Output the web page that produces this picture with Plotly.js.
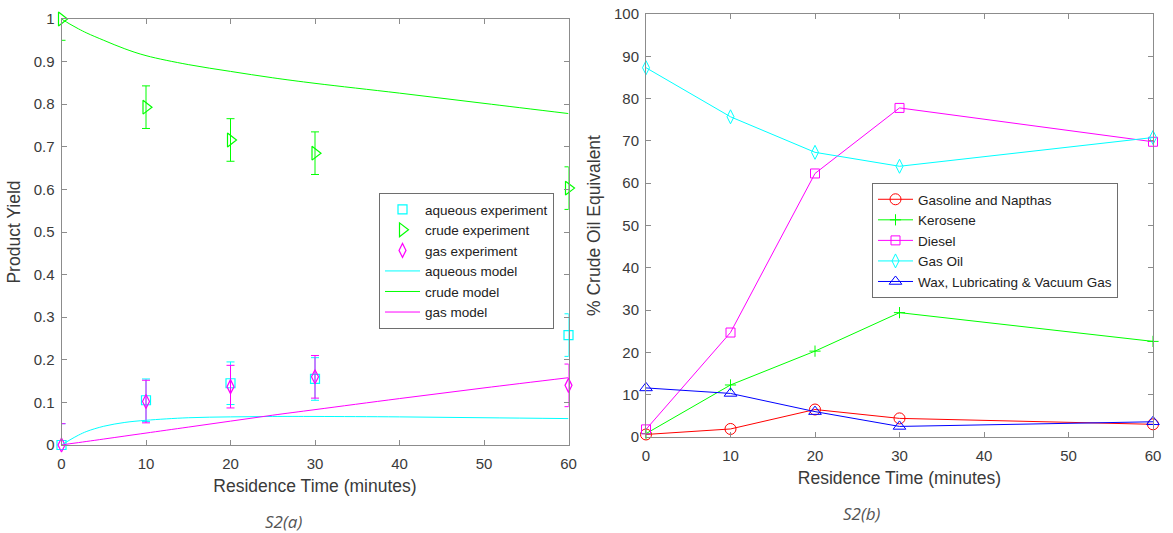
<!DOCTYPE html>
<html><head><meta charset="utf-8">
<script src="https://cdn.plot.ly/plotly-3.0.1.min.js"></script>
<style>html,body{margin:0;padding:0;background:#fff}#chart{width:1173px;height:533px}</style>
</head><body><div id="chart"></div>
<script>
// ---- Panel S2(a): product yield ----
const timesExp = [0, 10, 20, 30, 60];
const aqueousExp = [0.0, 0.105, 0.145, 0.155, 0.258];
const crudeExp = [1.0, 0.793, 0.716, 0.685, 0.603];
const gasExp = [0.0, 0.102, 0.137, 0.160, 0.140];
const expError = [0.05, 0.05, 0.05, 0.05, 0.05];

const timesModel = [0, 1, 2, 3, 5, 7.5, 10, 15, 20, 25, 30, 40, 50, 60];
const aqueousModel = [0, 0.012, 0.023, 0.032, 0.044, 0.053, 0.058, 0.064, 0.066, 0.067, 0.067, 0.066, 0.064, 0.062];
const crudeModel = [1.0, 0.988, 0.977, 0.967, 0.950, 0.930, 0.914, 0.893, 0.877, 0.862, 0.849, 0.826, 0.802, 0.778];
const gasModel = [0, 0.003, 0.0056, 0.0084, 0.014, 0.021, 0.028, 0.042, 0.056, 0.070, 0.083, 0.109, 0.134, 0.158];

// ---- Panel S2(b): crude oil equivalent fractions ----
const timesB = [0, 10, 20, 30, 60];
const gasoline = [0.6, 1.9, 6.5, 4.4, 3.0];
const kerosene = [0.8, 12.3, 20.3, 29.4, 22.6];
const diesel = [1.8, 24.7, 62.3, 77.8, 69.8];
const gasOil = [87.3, 75.7, 67.3, 64.0, 70.8];
const wax = [11.6, 10.3, 6.0, 2.5, 3.6];

const xTicks = [0, 10, 20, 30, 40, 50, 60];
const yTicksA = [0, 0.1, 0.2, 0.3, 0.4, 0.5, 0.6, 0.7, 0.8, 0.9, 1];
const yTickTextA = ['0', '0.1', '0.2', '0.3', '0.4', '0.5', '0.6', '0.7', '0.8', '0.9', '1'];
const yTicksB = [0, 10, 20, 30, 40, 50, 60, 70, 80, 90, 100];

const C = {cyan:'#00ffff', green:'#00ff00', magenta:'#ff00ff', red:'#ff0000', blue:'#0000ff'};
const FONT = 'Liberation Sans, Arial, sans-serif';
const W = 1173, H = 533;

function expTrace(name, y, color, symbol, size) {
  return {x: timesExp, y: y, name: name, type: 'scatter', mode: 'markers',
    xaxis: 'x', yaxis: 'y', legend: 'legend', cliponaxis: false,
    marker: {symbol: symbol, size: size, color: color, line: {color: color, width: 1.2}},
    error_y: {type: 'data', array: expError, visible: true, color: color, thickness: 1, width: 4}};
}
function modelTrace(name, y, color) {
  return {x: timesModel, y: y, name: name, type: 'scatter', mode: 'lines',
    xaxis: 'x', yaxis: 'y', legend: 'legend', line: {color: color, width: 1, shape: 'spline'}};
}
function fracTrace(name, y, color, symbol, size) {
  return {x: timesB, y: y, name: name, type: 'scatter', mode: 'lines+markers',
    xaxis: 'x2', yaxis: 'y2', legend: 'legend2', cliponaxis: false,
    line: {color: color, width: 1},
    marker: {symbol: symbol, size: size, color: color, line: {color: color, width: 1}}};
}

const traces = [
  expTrace('aqueous experiment', aqueousExp, C.cyan, 'square-open', 9),
  expTrace('crude experiment', crudeExp, C.green, 'triangle-right-open', 12),
  expTrace('gas experiment', gasExp, C.magenta, 'diamond-tall-open', 10),
  modelTrace('aqueous model', aqueousModel, C.cyan),
  modelTrace('crude model', crudeModel, C.green),
  modelTrace('gas model', gasModel, C.magenta),
  fracTrace('Gasoline and Napthas', gasoline, C.red, 'circle-open', 11),
  fracTrace('Kerosene', kerosene, C.green, 'cross-thin-open', 8),
  fracTrace('Diesel', diesel, C.magenta, 'square-open', 9),
  fracTrace('Gas Oil', gasOil, C.cyan, 'diamond-tall-open', 10),
  fracTrace('Wax, Lubricating &amp; Vacuum Gas', wax, C.blue, 'triangle-up-open', 11)
];

const axisBase = {showline: true, linecolor: '#8c8c8c', linewidth: 1, mirror: 'ticks',
  ticks: 'inside', ticklen: 5, tickcolor: '#8c8c8c', showgrid: false, zeroline: false,
  tickfont: {family: FONT, size: 15, color: '#3a3a3a'}};
const titleFont = {family: FONT, size: 17.5, color: '#3a3a3a'};

const pxX = v => v / W, pxY = v => 1 - v / H;

const legendBase = {xanchor: 'left', yanchor: 'top', bgcolor: '#fff',
  bordercolor: '#6e6e6e', borderwidth: 1, font: {family: FONT, size: 13.5, color: '#222'},
  itemwidth: 35, tracegroupgap: 0};

const layout = {
  width: W, height: H, margin: {l: 0, r: 0, t: 0, b: 0},
  paper_bgcolor: '#fff', plot_bgcolor: '#fff',
  font: {family: FONT, color: '#3a3a3a'},
  xaxis: Object.assign({}, axisBase, {domain: [pxX(61.5), pxX(568.5)], range: [0, 60], tickvals: xTicks,
    anchor: 'y', ticklabelstandoff: 5, title: {text: 'Residence Time (minutes)', font: titleFont, standoff: 8}}),
  yaxis: Object.assign({}, axisBase, {domain: [pxY(445), pxY(19)], range: [0, 1], tickvals: yTicksA, ticktext: yTickTextA,
    anchor: 'x', ticklabelstandoff: 3, title: {text: 'Product Yield', font: titleFont, standoff: 8}}),
  xaxis2: Object.assign({}, axisBase, {domain: [pxX(646), pxX(1153)], range: [0, 60], tickvals: xTicks,
    anchor: 'y2', ticklabelstandoff: 5, title: {text: 'Residence Time (minutes)', font: titleFont, standoff: 8}}),
  yaxis2: Object.assign({}, axisBase, {domain: [pxY(437), pxY(14)], range: [0, 100], tickvals: yTicksB,
    anchor: 'x2', ticklabelstandoff: 3, title: {text: '% Crude Oil Equivalent', font: titleFont, standoff: 8}}),
  legend: Object.assign({}, legendBase, {x: pxX(379), y: pxY(193)}),
  legend2: Object.assign({}, legendBase, {x: pxX(872), y: pxY(183)}),
  showlegend: true,
  annotations: [
    {text: '<i>S2(a)</i>', x: pxX(283), y: pxY(521), xref: 'paper', yref: 'paper', showarrow: false,
      xanchor: 'center', yanchor: 'middle', font: {family: 'Open Sans, sans-serif', size: 17, color: '#555'}},
    {text: '<i>S2(b)</i>', x: pxX(862), y: pxY(513), xref: 'paper', yref: 'paper', showarrow: false,
      xanchor: 'center', yanchor: 'middle', font: {family: 'Open Sans, sans-serif', size: 17, color: '#555'}}
  ]
};

Plotly.newPlot('chart', traces, layout, {displayModeBar: false, staticPlot: true});
</script></body></html>
